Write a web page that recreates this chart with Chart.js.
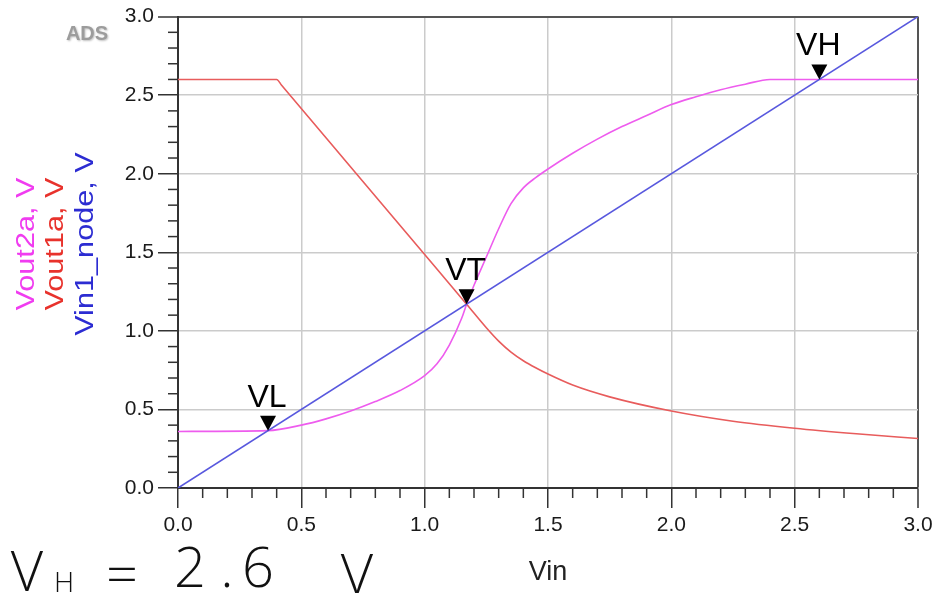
<!DOCTYPE html>
<html>
<head>
<meta charset="utf-8">
<script src="https://cdn.jsdelivr.net/npm/chart.js@4"></script>
<style>
  html, body { margin: 0; padding: 0; background: #fff; }
  #wrap { width: 948px; height: 593px; position: relative; }
</style>
</head>
<body>
<div id="wrap"><canvas id="c" width="948" height="593"></canvas></div>
<script>
// Input sweep (Vin1_node follows Vin)
const vinX = [0, 3];
const vinY = [0, 3];

// First inverter output
const vout1aX = [0, 0.4, 0.42, 0.7, 1.0, 1.17, 1.25, 1.3, 1.35, 1.4, 1.45, 1.5, 1.6, 1.75, 2.0, 2.25, 2.5, 2.75, 3.0];
const vout1aY = [2.6, 2.6, 2.563, 2.043, 1.486, 1.17, 1.02, 0.935, 0.865, 0.81, 0.765, 0.725, 0.655, 0.58, 0.49, 0.425, 0.38, 0.345, 0.315];

// Second stage output
const vout2aX = [0, 0.365, 0.5, 0.6, 0.7, 0.8, 0.9, 1.0, 1.05, 1.1, 1.15, 1.17, 1.2, 1.25, 1.3, 1.35, 1.4, 1.45, 1.5, 1.6, 1.7, 1.8, 1.9, 2.0, 2.1, 2.2, 2.3, 2.4, 3.0];
const vout2aY = [0.36, 0.365, 0.40, 0.44, 0.49, 0.55, 0.62, 0.715, 0.79, 0.91, 1.08, 1.17, 1.29, 1.47, 1.65, 1.81, 1.91, 1.975, 2.03, 2.13, 2.22, 2.30, 2.37, 2.44, 2.49, 2.535, 2.57, 2.6, 2.6];

// Switching-point markers
const markerNames = ['VL', 'VT', 'VH'];
const markerX = [0.365, 1.17, 2.6];
const markerY = [0.365, 1.17, 2.6];

// Axis ranges
const axisMin = 0, axisMax = 3, majorStep = 0.5, minorStep = 0.1;

const pts = (xs, ys) => xs.map((x, i) => ({ x, y: ys[i] }));

const FONT = '"Liberation Sans", Arial, sans-serif';

// Short minor tick marks between the labelled ticks on both axes
const minorTicks = {
  id: 'minorTicks',
  afterDraw(chart) {
    const { ctx, chartArea: a } = chart;
    const xs = chart.scales.x, ys = chart.scales.y;
    ctx.save();
    ctx.strokeStyle = '#333';
    ctx.lineWidth = 1.5;
    const n = Math.round((axisMax - axisMin) / minorStep);
    for (let i = 1; i < n; i++) {
      if (i % 5 === 0) continue;
      const v = axisMin + i * minorStep;
      const px = xs.getPixelForValue(v);
      ctx.beginPath(); ctx.moveTo(px, a.bottom); ctx.lineTo(px, a.bottom + 10); ctx.stroke();
      const py = ys.getPixelForValue(v);
      ctx.beginPath(); ctx.moveTo(a.left - 10, py); ctx.lineTo(a.left, py); ctx.stroke();
    }
    ctx.restore();
  }
};

// Downward triangles with their names above each switching point
const markers = {
  id: 'markers',
  afterDatasetsDraw(chart) {
    const { ctx } = chart;
    const xs = chart.scales.x, ys = chart.scales.y;
    ctx.save();
    ctx.fillStyle = '#000';
    ctx.font = '32px ' + FONT;
    ctx.textAlign = 'center';
    ctx.textBaseline = 'alphabetic';
    markerNames.forEach((name, i) => {
      const px = xs.getPixelForValue(markerX[i]);
      const py = ys.getPixelForValue(markerY[i]);
      ctx.beginPath();
      ctx.moveTo(px - 8, py - 15);
      ctx.lineTo(px + 8, py - 15);
      ctx.lineTo(px, py);
      ctx.closePath();
      ctx.fill();
      ctx.fillText(name, px - 1, py - 24);
    });
    ctx.restore();
  }
};

// Stacked, colour-coded y-axis title, ADS badge and the hand-written note
const annotations = {
  id: 'annotations',
  afterDraw(chart) {
    const { ctx } = chart;
    ctx.save();
    const lines = [
      { text: 'Vout2a, V', color: '#f03cf0', x: 34 },
      { text: 'Vout1a, V', color: '#e8322c', x: 63 },
      { text: 'Vin1_node, V', color: '#2c2cd2', x: 93 }
    ];
    ctx.font = '26px ' + FONT;
    ctx.textAlign = 'center';
    ctx.textBaseline = 'alphabetic';
    lines.forEach(l => {
      ctx.save();
      ctx.translate(l.x, 244);
      ctx.rotate(-Math.PI / 2);
      ctx.scale(1.18, 1);
      ctx.fillStyle = l.color;
      ctx.fillText(l.text, 0, 0);
      ctx.restore();
    });

    ctx.font = 'bold 20px ' + FONT;
    ctx.fillStyle = '#9c9c9c';
    ctx.shadowColor = 'rgba(0,0,0,0.25)';
    ctx.shadowBlur = 2;
    ctx.shadowOffsetX = 1;
    ctx.shadowOffsetY = 1;
    ctx.fillText('ADS', 87, 40);
    ctx.shadowColor = 'transparent';

    ctx.fillStyle = '#111';
    const hand = '300 56px "Open Sans", ' + FONT;
    const note = [
      { t: 'V', x: 27, y: 591, f: hand },
      { t: 'H', x: 64, y: 592, f: '300 28px "Open Sans", ' + FONT },
      { t: '=', x: 122, y: 594, f: hand },
      { t: '2', x: 190, y: 587, f: hand },
      { t: '.', x: 227, y: 587, f: hand },
      { t: '6', x: 258, y: 587, f: hand },
      { t: 'V', x: 357, y: 594, f: hand }
    ];
    note.forEach(n => { ctx.font = n.f; ctx.fillText(n.t, n.x, n.y); });
    ctx.restore();
  }
};

const gridColor = c => (c.tick && Math.abs(c.tick.value - axisMax) < 1e-9) ? '#555' : '#cbcbcb';
const gridWidth = c => (c.tick && Math.abs(c.tick.value - axisMax) < 1e-9) ? 2 : 1.5;

new Chart(document.getElementById('c'), {
  type: 'scatter',
  data: {
    datasets: [
      { label: 'Vin1_node', data: pts(vinX, vinY), showLine: true, borderColor: 'rgb(88,88,222)', borderWidth: 1.6, pointRadius: 0, tension: 0 },
      { label: 'Vout1a', data: pts(vout1aX, vout1aY), showLine: true, borderColor: 'rgb(232,92,92)', borderWidth: 1.6, pointRadius: 0, cubicInterpolationMode: 'monotone' },
      { label: 'Vout2a', data: pts(vout2aX, vout2aY), showLine: true, borderColor: 'rgb(238,92,238)', borderWidth: 1.6, pointRadius: 0, cubicInterpolationMode: 'monotone' }
    ]
  },
  options: {
    responsive: false,
    animation: false,
    devicePixelRatio: 1,
    layout: { padding: { left: 0, right: 30, top: 12, bottom: 0 } },
    plugins: { legend: { display: false }, tooltip: { enabled: false } },
    scales: {
      x: {
        type: 'linear', min: axisMin, max: axisMax,
        afterFit: s => { s.height = 105; },
        ticks: {
          stepSize: majorStep, autoSkip: false, maxRotation: 0,
          callback: v => v.toFixed(1),
          font: { family: FONT, size: 21 }, color: '#1a1a1a', padding: 5
        },
        grid: { color: gridColor, lineWidth: gridWidth, drawTicks: true, tickLength: 20, tickColor: '#333', tickWidth: 1.5 },
        border: { display: true, color: '#333', width: 2 },
        title: { display: true, text: 'Vin', font: { family: FONT, size: 27 }, color: '#222', padding: { top: 0, bottom: 4 } }
      },
      y: {
        type: 'linear', min: axisMin, max: axisMax,
        afterFit: s => { s.width = 178; },
        ticks: {
          stepSize: majorStep, autoSkip: false,
          callback: v => v.toFixed(1),
          font: { family: FONT, size: 21 }, color: '#1a1a1a', padding: 4
        },
        grid: { color: gridColor, lineWidth: gridWidth, drawTicks: true, tickLength: 20, tickColor: '#333', tickWidth: 1.5 },
        border: { display: true, color: '#333', width: 2 }
      }
    }
  },
  plugins: [minorTicks, markers, annotations]
});
</script>
</body>
</html>
